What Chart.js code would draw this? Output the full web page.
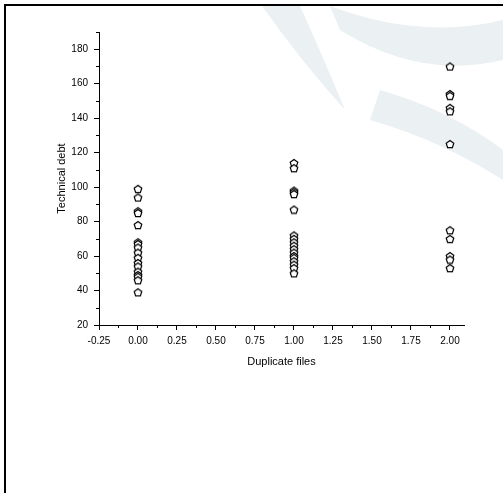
<!DOCTYPE html>
<html lang="en">
<head>
    <meta charset="UTF-8">
    <title>Technical debt vs duplicate files</title>
    <script src="https://cdn.jsdelivr.net/npm/chart.js"></script>
    <style>
        html, body { margin: 0; padding: 0; background: #fff; }
        .chart-container {
            position: absolute;
            left: 0; top: 0;
            width: 503px; height: 493px;
        }
        /* page frame, cropped at right and bottom */
        .frame {
            position: absolute;
            left: 4px; top: 4px; right: 0; bottom: 0;
            border-top: 2px solid #000;
            border-left: 2px solid #000;
            pointer-events: none;
        }
    </style>
</head>
<body>
    <div class="chart-container">
        <canvas id="chart"></canvas>
    </div>
    <div class="frame"></div>
    <script>
        // x categories (number of duplicate files) and technical debt per group
        var duplicateFiles = [0, 1, 2];
        var debtZero = [99, 94, 86, 85, 78, 68, 67, 65, 62, 59, 56, 54, 51, 49, 48, 46, 39];
        var debtOne = [114, 111, 98, 97, 96, 87, 72, 70, 68, 66, 64, 62, 60, 59, 57, 55, 53, 50];
        var debtTwo = [170, 154, 153, 146, 144, 125, 75, 70, 60, 58, 53];
        var debtGroups = [debtZero, debtOne, debtTwo];

        var points = [];
        duplicateFiles.forEach(function(x, i) {
            debtGroups[i].forEach(function(y) { points.push({ x: x, y: y }); });
        });

        // hollow pentagon marker
        function makePentagon() {
            var c = document.createElement('canvas');
            c.width = 10; c.height = 10;
            var g = c.getContext('2d');
            g.beginPath();
            for (var k = 0; k < 5; k++) {
                var a = -Math.PI / 2 + k * 2 * Math.PI / 5;
                var px = 5 + 4 * Math.cos(a), py = 5.4 + 4 * Math.sin(a);
                if (k === 0) g.moveTo(px, py); else g.lineTo(px, py);
            }
            g.closePath();
            g.fillStyle = '#fff';
            g.fill();
            g.strokeStyle = '#000';
            g.lineWidth = 1.2;
            g.stroke();
            return c;
        }

        // faint watermark behind the plot
        var watermark = {
            id: 'watermark',
            beforeDraw: function(chart) {
                var ctx = chart.ctx;
                ctx.save();
                ctx.fillStyle = '#ebf0f3';
                ctx.beginPath();
                ctx.moveTo(262, 6);
                ctx.quadraticCurveTo(300, 60, 345, 110);
                ctx.quadraticCurveTo(320, 50, 300, 6);
                ctx.closePath();
                ctx.fill();
                ctx.beginPath();
                ctx.moveTo(330, 6);
                ctx.quadraticCurveTo(420, 40, 503, 20);
                ctx.lineTo(503, 60);
                ctx.quadraticCurveTo(420, 80, 340, 30);
                ctx.closePath();
                ctx.fill();
                ctx.beginPath();
                ctx.moveTo(380, 90);
                ctx.quadraticCurveTo(450, 110, 503, 150);
                ctx.lineTo(503, 180);
                ctx.quadraticCurveTo(440, 140, 370, 120);
                ctx.closePath();
                ctx.fill();
                ctx.restore();
            }
        };

        // short minor ticks between the labelled ones
        var minorTicks = {
            id: 'minorTicks',
            afterDraw: function(chart) {
                var ctx = chart.ctx, xs = chart.scales.x, ys = chart.scales.y;
                ctx.save();
                ctx.strokeStyle = '#000';
                ctx.lineWidth = 1;
                ctx.beginPath();
                for (var v = -0.125; v < xs.max; v += 0.25) {
                    var px = Math.round(xs.getPixelForValue(v)) + 0.5;
                    ctx.moveTo(px, ys.bottom);
                    ctx.lineTo(px, ys.bottom + 3);
                }
                for (var w = 30; w <= ys.max; w += 20) {
                    var py = Math.round(ys.getPixelForValue(w)) + 0.5;
                    ctx.moveTo(xs.left, py);
                    ctx.lineTo(xs.left - 3, py);
                }
                ctx.stroke();
                ctx.restore();
            }
        };

        var ctx = document.getElementById('chart').getContext('2d');
        var chart = new Chart(ctx, {
            type: 'scatter',
            data: {
                datasets: [{
                    label: 'Technical debt',
                    data: points,
                    pointStyle: makePentagon(),
                    pointRadius: 4,
                    showLine: false
                }]
            },
            options: {
                responsive: true,
                maintainAspectRatio: false,
                animation: false,
                layout: { padding: { left: 49, top: 32, right: 39, bottom: 124 } },
                plugins: {
                    legend: { display: false },
                    tooltip: { enabled: false }
                },
                scales: {
                    x: {
                        type: 'linear',
                        min: -0.25,
                        max: 2.09,
                        afterFit: function(scale) { scale.height = 44; },
                        grid: { display: true, drawOnChartArea: false, drawTicks: true, tickLength: 5, color: '#000', tickColor: '#000' },
                        border: { display: true, color: '#000', width: 1 },
                        ticks: {
                            stepSize: 0.25,
                            includeBounds: false,
                            padding: 5,
                            color: '#000',
                            font: { family: 'Liberation Sans', size: 10 },
                            callback: function(v) { return Number(v).toFixed(2); }
                        },
                        title: {
                            display: true,
                            text: 'Duplicate files',
                            color: '#000',
                            padding: 0,
                            font: { family: 'Liberation Sans', size: 11 }
                        }
                    },
                    y: {
                        min: 20,
                        max: 190,
                        afterFit: function(scale) { scale.width = 50; },
                        grid: { display: true, drawOnChartArea: false, drawTicks: true, tickLength: 5, color: '#000', tickColor: '#000' },
                        border: { display: true, color: '#000', width: 1 },
                        ticks: {
                            stepSize: 20,
                            includeBounds: false,
                            padding: 6,
                            color: '#000',
                            font: { family: 'Liberation Sans', size: 10 }
                        },
                        title: {
                            display: true,
                            text: 'Technical debt',
                            color: '#000',
                            padding: { top: 6, bottom: 0 },
                            font: { family: 'Liberation Sans', size: 11 }
                        }
                    }
                }
            },
            plugins: [watermark, minorTicks]
        });
    </script>
</body>
</html>
